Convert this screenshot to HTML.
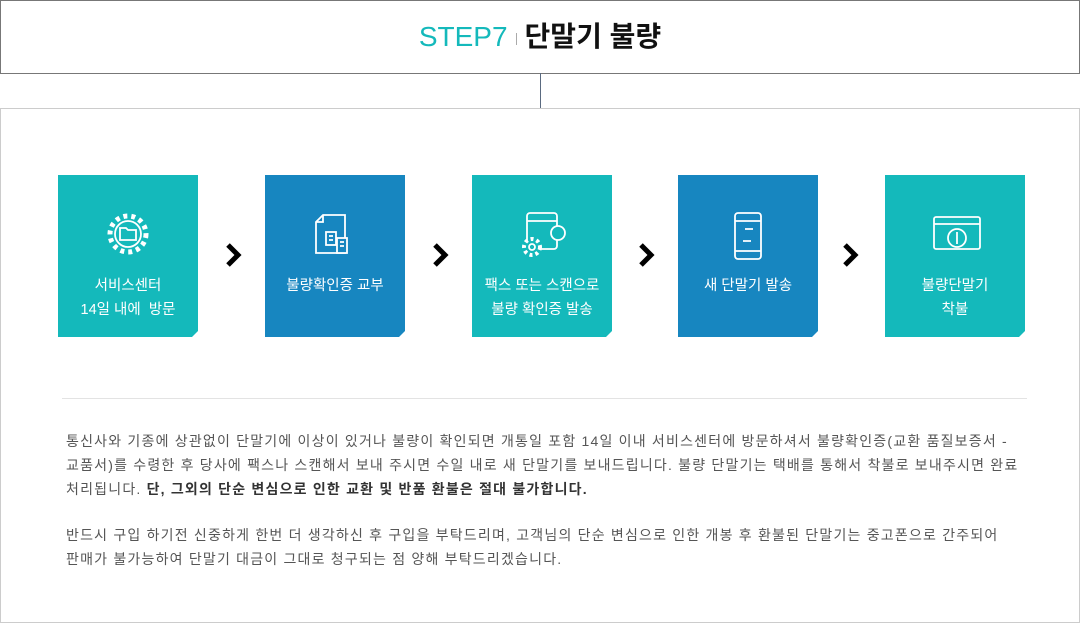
<!DOCTYPE html>
<html><head><meta charset="utf-8"><style>
*{margin:0;padding:0;box-sizing:border-box}
body{width:1080px;height:623px;background:#fff;position:relative;font-family:"Liberation Sans","Noto Sans CJK KR",sans-serif;overflow:hidden}
.hd{position:absolute;left:0;top:0;width:1080px;height:74px;border:1px solid #777;text-align:center;line-height:72px;font-size:28px}
.hd .s{color:#14b9bb;font-weight:300}
.hd .b{color:#111;font-weight:bold}
.hd .bar{display:inline-block;width:1px;height:12px;background:#aaa;margin:0 8px;vertical-align:middle}
.vl{position:absolute;left:540px;top:73px;width:1px;height:36px;background:#5a6a80}
.ct{position:absolute;left:0;top:108px;width:1080px;height:515px;border:1px solid #ccc}
.bx{position:absolute;top:175px;width:140px;height:162px;color:#fff;text-align:center;font-size:14.5px;line-height:24px;clip-path:polygon(0 0,100% 0,100% 156px,134px 100%,0 100%)}
.t{background:#14b9bb}.bl{background:#1786c0}
.bx svg{position:absolute;left:47px;top:36px}
.bx .tx{position:absolute;left:0;right:0;top:99px}
.ar{position:absolute;top:242px;width:18px;height:26px}
.dv{position:absolute;left:62px;top:398px;width:965px;height:1px;background:#e3e3e3}
.p{position:absolute;left:66px;font-size:14px;color:#555;line-height:24px;white-space:nowrap;letter-spacing:1.2px}
</style></head><body>
<div class="hd"><span class="s">STEP7</span><span class="bar"></span><span class="b">단말기 불량</span></div>
<div class="vl"></div>
<div class="ct"></div>
<div class="bx t" style="left:58px"><svg width="46" height="46" fill="none" stroke="#fff" stroke-width="1.8"><circle cx="23" cy="23" r="18" stroke-width="5" stroke-dasharray="4 4"/><circle cx="23" cy="23" r="13"/><path d="M15 17h6l2 2h8v10H15z"/></svg><div class="tx">서비스센터<br>14일 내에&nbsp; 방문</div></div>
<svg class="ar" style="left:225px" viewBox="0 0 18 26"><path d="M3 3l10 10-10 10" stroke="#000" stroke-width="5" fill="none"/></svg>
<div class="bx bl" style="left:265px"><svg width="46" height="50" fill="none" stroke="#fff" stroke-width="1.8"><path d="M11 4h22v38H4V11zM11 4v7H4"/><rect x="14" y="21" width="10" height="13"/><rect x="25" y="27" width="10" height="15" fill="#1786c0"/><path d="M17 25h4M17 29h4M28 31h4M28 35h4"/></svg><div class="tx">불량확인증 교부</div></div>
<svg class="ar" style="left:432px" viewBox="0 0 18 26"><path d="M3 3l10 10-10 10" stroke="#000" stroke-width="5" fill="none"/></svg>
<div class="bx t" style="left:472px"><svg width="50" height="50" fill="none" stroke="#fff" stroke-width="1.8"><rect x="8" y="2" width="30" height="36" rx="3"/><path d="M8 10h30"/><circle cx="39" cy="22" r="7" fill="#14b9bb"/><circle cx="13" cy="36" r="8" stroke-width="4" stroke-dasharray="3 3" fill="#14b9bb"/><circle cx="13" cy="36" r="3"/></svg><div class="tx">팩스 또는 스캔으로<br>불량 확인증 발송</div></div>
<svg class="ar" style="left:638px" viewBox="0 0 18 26"><path d="M3 3l10 10-10 10" stroke="#000" stroke-width="5" fill="none"/></svg>
<div class="bx bl" style="left:678px"><svg width="46" height="50" fill="none" stroke="#fff" stroke-width="1.8"><rect x="10" y="2" width="26" height="46" rx="3"/><path d="M10 10h26M10 40h26M20 18h8M18 30h8"/></svg><div class="tx">새 단말기 발송</div></div>
<svg class="ar" style="left:842px" viewBox="0 0 18 26"><path d="M3 3l10 10-10 10" stroke="#000" stroke-width="5" fill="none"/></svg>
<div class="bx t" style="left:885px"><svg width="50" height="46" fill="none" stroke="#fff" stroke-width="1.8"><rect x="2" y="6" width="46" height="32" rx="2"/><path d="M2 13h46"/><circle cx="25" cy="27" r="9"/><path d="M25 21v12"/></svg><div class="tx">불량단말기<br>착불</div></div>
<div class="dv"></div>
<div class="p" style="top:429px">통신사와 기종에 상관없이 단말기에 이상이 있거나 불량이 확인되면 개통일 포함 14일 이내 서비스센터에 방문하셔서 불량확인증(교환 품질보증서 -<br>교품서)를 수령한 후 당사에 팩스나 스캔해서 보내 주시면 수일 내로 새 단말기를 보내드립니다. 불량 단말기는 택배를 통해서 착불로 보내주시면 완료<br>처리됩니다. <b style="color:#333">단, 그외의 단순 변심으로 인한 교환 및 반품 환불은 절대 불가합니다.</b></div>
<div class="p" style="top:523px">반드시 구입 하기전 신중하게 한번 더 생각하신 후 구입을 부탁드리며, 고객님의 단순 변심으로 인한 개봉 후 환불된 단말기는 중고폰으로 간주되어<br>판매가 불가능하여 단말기 대금이 그대로 청구되는 점 양해 부탁드리겠습니다.</div>
</body></html>
